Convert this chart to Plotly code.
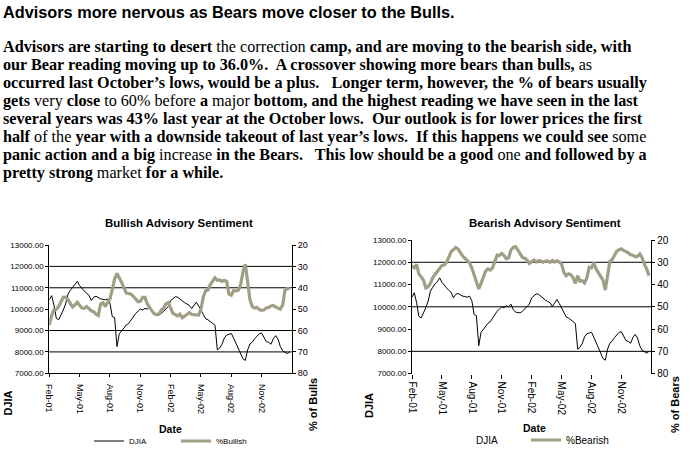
import pandas as pd
import plotly.graph_objects as go

# ---------------- data ----------------
dates = pd.date_range("2001-02-02", periods=104, freq="7D")
tick_labels = ["Feb-01", "May-01", "Aug-01", "Nov-01", "Feb-02", "May-02", "Aug-02", "Nov-02"]

djia = [10430, 10630, 10190, 9570, 9500, 9720, 9960, 10250, 10700, 10880, 11030, 11120, 11300,
        11100, 10950, 10850, 10740, 10650, 10400, 10560, 10600, 10520, 10480, 10460, 10430, 10480,
        10270, 9650, 9600, 8250, 8850, 8980, 9120, 9260, 9330, 9500, 9650, 9800, 9900,
        10000, 9960, 10040, 10000, 10120, 9870, 9760, 9740, 9730, 9800, 9910, 10050, 10120,
        10400, 10500, 10580, 10560, 10460, 10380, 10300, 10240, 10180, 10020, 10150, 10330, 10150,
        9960, 9720, 9550, 9500, 9410, 9300, 9250, 8100, 8180, 8360, 8650, 8790, 8830,
        8860, 8640, 8400, 8150, 7950, 7680, 7600, 8100, 8370, 8460, 8620, 8740, 8850,
        8880, 8650, 8480, 8450, 8360, 8620, 8760, 8600, 8250, 8050, 7990, 7920, 8000]

pct_bullish = [57.4, 53, 50.4, 50.2, 48.7, 46.8, 44.5, 44.4, 45.5, 47.3, 49, 48, 46.8,
               48.2, 49.5, 49.6, 48.8, 49.8, 50.8, 51.2, 52.4, 53, 47.5, 47, 48.8, 46.8,
               45.2, 40.8, 35.8, 33.3, 35.2, 37.5, 40, 42.5, 42.7, 43, 44, 45.3, 46.5,
               46.3, 44.5, 44.5, 47.5, 49.3, 50.8, 52.2, 52.5, 52.3, 50.4, 49.5, 47.5, 47,
               49.5, 52, 52.6, 53.2, 52.3, 54, 53.3, 52.2, 51.6, 52.5, 52.6, 53, 52.8,
               50, 44.2, 41.4, 41, 38.5, 36.8, 35.3, 36.5, 36.3, 37, 36.5, 37, 43,
               43.5, 41.3, 41.5, 41.1, 38.5, 32.5, 29, 37, 45.7, 48.8, 49.5, 49.2, 50.2,
               50.6, 50.3, 49.5, 49.2, 48.5, 48.3, 49, 49.6, 50, 48, 41.1, 40.3, 40.5]

pct_bearish = [31.5, 32.5, 31, 35.3, 36.5, 38, 41.5, 41, 39.5, 37, 35.5, 34.4, 32.8,
               31.5, 31.2, 30, 27.3, 25.3, 24.4, 23.4, 24, 25.7, 27.2, 28.2, 29.3, 30.3,
               32.5, 36, 39, 42, 39.5, 36.3, 34, 33, 33.5, 32.5, 29.5, 26.8, 27,
               26, 27, 28.4, 28, 24.5, 23.3, 23, 24.5, 26.5, 27.8, 28.2, 29, 30.5,
               29.9, 29, 29.9, 29.3, 29.5, 30, 29.5, 29.4, 30, 29.2, 29.9, 29.3, 29.9,
               30.8, 34.5, 36, 35.2, 35.5, 37, 39.5, 36, 38.5, 38.3, 39.3, 37, 32.2,
               32.5, 30.2, 33, 34.5, 36, 38, 42.5, 36, 29.5, 28.8, 26.5, 25, 24.4,
               24, 24.7, 25.2, 25.8, 26.6, 26.8, 27.5, 27.3, 26.2, 28, 31, 33, 36]

djia_ticks = [7000, 8000, 9000, 10000, 11000, 12000, 13000]
pct_ticks = [20, 30, 40, 50, 60, 70, 80]
bull_grid = [8000, 9000, 11000, 12000]
bear_grid = [8000, 10000, 12000]

headline = "Advisors more nervous as Bears move closer to the Bulls."
NB = "\u00a0"
paragraph = [
    "<b>Advisors are starting to desert</b> the correction <b>camp, and are moving to the bearish side, with</b>",
    "<b>our Bear reading moving up to 36.0%." + NB + " A crossover showing more bears than bulls,</b> as",
    "<b>occurred last October\u2019s lows, would be a plus.</b>" + NB * 2 + " <b>Longer term, however, the % of bears usually</b>",
    "<b>gets</b> very <b>close</b> to 60% before <b>a</b> major <b>bottom, and the highest reading we have seen in the last</b>",
    "<b>several years was 43% last year at the October lows." + NB + " Our outlook is for lower prices the first</b>",
    "<b>half</b> of the <b>year with a downside takeout of last year\u2019s lows." + NB + " If this happens we could see</b> some",
    "<b>panic action and a big</b> increase <b>in the Bears." + NB * 2 + " This low should be a good</b> one <b>and followed by a</b>",
    "<b>pretty strong</b> market <b>for a while.</b>",
]

# ---------------- style ----------------
W, H = 691, 450
GRAY = "#a09f86"
SANS = "Liberation Sans, Arial, sans-serif"
SERIF = "Liberation Serif, Times New Roman, serif"


def px(x):
    return x / W


def py(y):
    return 1 - y / H


xr = [dates[0], dates[0] + pd.Timedelta(weeks=104)]
tickvals_x = list(dates[::13])

fig = go.Figure()
fig.add_trace(go.Scatter(x=dates, y=djia, name="DJIA", mode="lines",
                         line=dict(color="black", width=1), xaxis="x", yaxis="y", legend="legend"))
fig.add_trace(go.Scatter(x=dates, y=pct_bullish, name="%Bullish", mode="lines",
                         line=dict(color=GRAY, width=3.2), xaxis="x", yaxis="y2", legend="legend"))
fig.add_trace(go.Scatter(x=dates, y=djia, name="DJIA", mode="lines", showlegend=False,
                         line=dict(color="black", width=1), xaxis="x2", yaxis="y3"))
fig.add_trace(go.Scatter(x=[None], y=[None], name="DJIA", mode="lines",
                         line=dict(color="rgba(0,0,0,0)", width=1), xaxis="x2", yaxis="y3", legend="legend2"))
fig.add_trace(go.Scatter(x=dates, y=pct_bearish, name="%Bearish", mode="lines",
                         line=dict(color=GRAY, width=3.2), xaxis="x2", yaxis="y4", legend="legend2"))

common_x = dict(type="date", range=xr, tickmode="array", tickvals=tickvals_x, ticktext=tick_labels,
                tickangle=90, ticks="outside", tickcolor="black", showgrid=False, zeroline=False,
                linecolor="black", linewidth=1)
common_y = dict(tickmode="array", ticks="outside", ticklen=3, tickcolor="black", showgrid=False,
                zeroline=False, showline=True, linecolor="black", linewidth=1)

fig.update_layout(
    width=W, height=H,
    margin=dict(l=0, r=0, t=0, b=0, autoexpand=False),
    paper_bgcolor="white", plot_bgcolor="rgba(0,0,0,0)",
    xaxis=dict(common_x, domain=[px(49.3), px(292)], anchor="y", showline=True, ticklen=3,
               ticklabelstandoff=5, tickfont=dict(family=SANS, size=9, color="black")),
    yaxis=dict(common_y, domain=[py(373.3), py(245)], anchor="x", range=[7000, 13000],
               tickvals=djia_ticks, tickformat=".2f", tickfont=dict(family=SANS, size=8, color="black")),
    yaxis2=dict(common_y, overlaying="y", side="right", anchor="x", range=[80, 20],
                tickvals=pct_ticks, tickfont=dict(family=SANS, size=9, color="black")),
    xaxis2=dict(common_x, domain=[px(412), px(651.3)], anchor="y3", showline=False, ticklen=4,
                ticklabelstandoff=1, tickfont=dict(family=SANS, size=10, color="black")),
    yaxis3=dict(common_y, domain=[py(373.6), py(240)], anchor="x2", range=[7000, 13000],
                tickvals=djia_ticks, tickformat=".2f", tickfont=dict(family=SANS, size=8, color="black")),
    yaxis4=dict(common_y, overlaying="y3", side="right", anchor="x2", range=[80, 20],
                tickvals=pct_ticks, tickfont=dict(family=SANS, size=10, color="black")),
    legend=dict(orientation="h", x=px(89), y=py(441), xanchor="left", yanchor="middle",
                font=dict(family=SANS, size=8, color="black"), bgcolor="rgba(0,0,0,0)",
                entrywidth=42, entrywidthmode="pixels", tracegroupgap=0),
    legend2=dict(orientation="h", x=px(436), y=py(440), xanchor="left", yanchor="middle",
                 font=dict(family=SANS, size=10, color="black"), bgcolor="rgba(0,0,0,0)",
                 entrywidth=45, entrywidthmode="pixels", tracegroupgap=0),
    showlegend=True,
)

shapes = []
for v in bull_grid:
    shapes.append(dict(type="line", xref="x domain", x0=0, x1=1, yref="y", y0=v, y1=v,
                       line=dict(color="black", width=1), layer="below"))
for v in bear_grid:
    shapes.append(dict(type="line", xref="x2 domain", x0=0, x1=1, yref="y3", y0=v, y1=v,
                       line=dict(color="black", width=1), layer="below"))
fig.update_layout(shapes=shapes)

ann = []
ann.append(dict(text="<b>" + headline + "</b>", x=px(1), y=py(12), xref="paper", yref="paper",
                xanchor="left", yanchor="middle", showarrow=False,
                font=dict(family=SANS, size=16.3, color="black")))
for k, line in enumerate(paragraph):
    ann.append(dict(text=line, x=px(1), y=py(47 + 18.05 * k), xref="paper", yref="paper",
                    xanchor="left", yanchor="middle", showarrow=False,
                    font=dict(family=SERIF, size=16.2, color="black")))


def label(text, x, y, size, angle=0, bold=True, family=SANS):
    ann.append(dict(text=("<b>%s</b>" % text) if bold else text, x=px(x), y=py(y),
                    xref="paper", yref="paper", xanchor="center", yanchor="middle",
                    showarrow=False, textangle=angle, font=dict(family=family, size=size, color="black")))


label("Bullish Advisory Sentiment", 179, 223, 11.4)
label("Bearish Advisory Sentiment", 545, 223, 11.4)
label("DJIA", 7.5, 403, 11, -90)
label("% of Bulls", 313, 405, 11, -90)
label("Date", 170.5, 429, 10.5)
label("DJIA", 369, 406, 11, -90)
label("% of Bears", 675, 405, 11, -90)
label("Date", 534, 428, 10.5)

fig.update_layout(annotations=ann)

PIN = ("var h=document.documentElement,b=document.body;"
       "h.style.margin='0';h.style.padding='0';h.style.overflow='hidden';"
       "b.style.margin='0';b.style.padding='0';b.style.overflow='hidden';"
       "var d=document.getElementById('{plot_id}');"
       "d.style.position='fixed';d.style.left='0px';d.style.top='0px';")

fig.write_html("out.html", config={"displayModeBar": False}, post_script=PIN)
